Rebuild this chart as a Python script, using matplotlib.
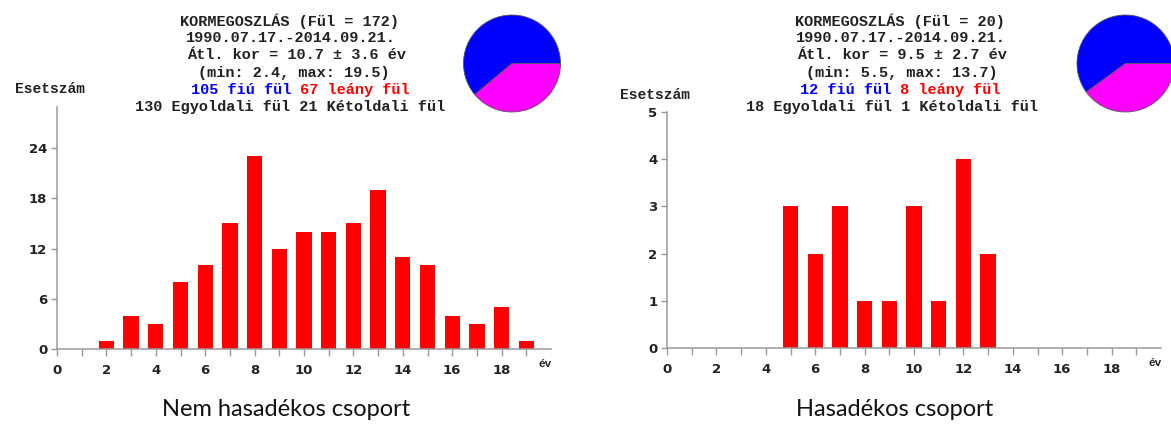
import matplotlib.pyplot as plt
import numpy as np

# data
ages_nem = [2, 3, 4, 5, 6, 7, 8, 9, 10, 11, 12, 13, 14, 15, 16, 17, 18, 19]
counts_nem = [1, 4, 3, 8, 10, 15, 23, 12, 14, 14, 15, 19, 11, 10, 4, 3, 5, 1]
ages_has = [5, 6, 7, 8, 9, 10, 11, 12, 13]
counts_has = [3, 2, 3, 1, 1, 3, 1, 4, 2]

sex_nem = [105, 67]   # fiú, leány
sex_has = [12, 8]

title_nem = ["KORMEGOSZLÁS (Fül = 172)", "1990.07.17.-2014.09.21.",
             "Átl. kor = 10.7 ± 3.6 év", "(min: 2.4, max: 19.5)",
             "130 Egyoldali fül 21 Kétoldali fül"]
title_has = ["KORMEGOSZLÁS (Fül = 20)", "1990.07.17.-2014.09.21.",
             "Átl. kor = 9.5 ± 2.7 év", "(min: 5.5, max: 13.7)",
             "18 Egyoldali fül 1 Kétoldali fül"]
sex_text_nem = ["105 fiú fül", " 67 leány fül"]
sex_text_has = ["12 fiú fül", " 8 leány fül"]
yticks_nem = [0, 6, 12, 18, 24]
yticks_has = [0, 1, 2, 3, 4, 5]

W, H = 1171, 425
fig = plt.figure(figsize=(W / 100, H / 100), dpi=100)


def rect(x0, ytop, w, h):
    return [x0 / W, 1 - (ytop + h) / H, w / W, h / H]


mono = 'Liberation Mono'
grey = '#9a9a9a'


def histo(r, ages, counts, ytop, yticks):
    ax = fig.add_axes(r)
    ax.bar(ages, counts, width=0.62, color='#ff0000', edgecolor='none', zorder=2)
    ax.set_xlim(0, 20)
    ax.set_ylim(0, ytop)
    for s in ['top', 'right']:
        ax.spines[s].set_visible(False)
    for s in ['left', 'bottom']:
        ax.spines[s].set_color(grey)
        ax.spines[s].set_linewidth(1.1)
    ax.set_xticks(range(0, 20))
    ax.set_xticklabels([str(i) if i % 2 == 0 else '' for i in range(0, 20)])
    ax.set_yticks(yticks)
    ax.tick_params(axis='x', length=5, width=1, color=grey, pad=6)
    ax.tick_params(axis='y', length=4, width=1, color=grey, pad=3)
    for lab in ax.get_xticklabels() + ax.get_yticklabels():
        lab.set_fontfamily('DejaVu Sans')
        lab.set_fontweight('bold')
        lab.set_fontsize(9.5)
        lab.set_color('#222222')
    ax.annotate('év', xy=(1, 0), xycoords='axes fraction', xytext=(-6, -15),
                textcoords='offset pixels', ha='center', va='center',
                fontsize=8, fontweight='bold', family=mono, color='#222222')
    return ax


ax1 = histo(rect(57, 107, 494, 242), ages_nem, counts_nem, 28.9, yticks_nem)
ax2 = histo(rect(667, 112, 494, 236), ages_has, counts_has, 5, yticks_has)

fig.text(50 / W, 1 - 89 / H, 'Esetszám', ha='center', va='center',
         family=mono, fontweight='bold', fontsize=10.5, color='#222222')
fig.text(655 / W, 1 - 95 / H, 'Esetszám', ha='center', va='center',
         family=mono, fontweight='bold', fontsize=10.5, color='#222222')

# title blocks
line_y = [21, 38, 55, 73, 107]
centers_nem = [289, 291, 297, 294, 290]
centers_has = [900, 901, 902, 902, 892]
for lines, centers in [(title_nem, centers_nem), (title_has, centers_has)]:
    for txt, cx, ly in zip(lines, centers, line_y):
        fig.text(cx / W, 1 - ly / H, txt, ha='center', va='center',
                 family=mono, fontweight='bold', fontsize=11, color='#222222')

for parts, x0 in [(sex_text_nem, 191), (sex_text_has, 800)]:
    t = fig.text(x0 / W, 1 - 90 / H, parts[0], ha='left', va='center',
                 family=mono, fontweight='bold', fontsize=11, color='#0000ff')
    ax1.annotate(parts[1], xy=(1, 0), xycoords=t, ha='left', va='bottom',
                 family=mono, fontweight='bold', fontsize=11, color='#ff0000',
                 annotation_clip=False)

# pies
for sex, cx in [(sex_nem, 512), (sex_has, 1125.5)]:
    pa = fig.add_axes(rect(cx - 49, 14.5, 98, 98))
    pa.pie(sex, colors=['#0000ff', '#ff00ff'], startangle=0, counterclock=True,
           wedgeprops=dict(edgecolor='#555555', linewidth=0.6))
    pa.set_xlim(-1.01, 1.01)
    pa.set_ylim(-1.01, 1.01)
    pa.set_aspect('equal')
    pa.axis('off')

fig.text(286 / W, 1 - 410 / H, 'Nem hasadékos csoport', ha='center', va='center',
         family='Lato', fontsize=17, color='#111111')
fig.text(895 / W, 1 - 410 / H, 'Hasadékos csoport', ha='center', va='center',
         family='Lato', fontsize=17, color='#111111')

fig.savefig('out.png', dpi=100)
